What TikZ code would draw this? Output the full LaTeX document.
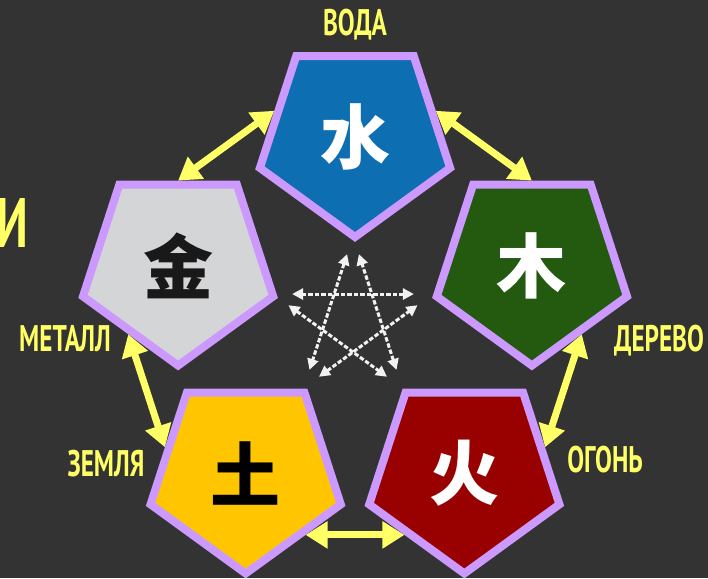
\documentclass[tikz,border=0pt]{standalone}
\usepackage{fontspec}
\setmainfont{PT Sans}
\newfontfamily\namefont[FakeStretch=0.68]{PT Sans}
\newfontfamily\cjk{Noto Sans CJK SC}
\usetikzlibrary{arrows.meta,positioning,calc,shapes.geometric}
\definecolor{bgGrey}{HTML}{333333}
\definecolor{rimLilac}{HTML}{CC99FF}
\definecolor{nameYellow}{HTML}{FFFF66}
\definecolor{starWhite}{HTML}{F2F2F2}
\definecolor{waterBlue}{HTML}{0D6EB2}
\definecolor{woodGreen}{HTML}{235A0F}
\definecolor{fireRed}{HTML}{990000}
\definecolor{earthGold}{HTML}{FFC600}
\definecolor{metalGrey}{HTML}{D4D5D7}
\tikzset{
  element/.style={regular polygon, regular polygon sides=5, shape border rotate=180,
    minimum size=200pt, draw=rimLilac, line width=8pt, inner sep=0pt,
    font=\cjk\bfseries\fontsize{70}{70}\selectfont},
  namelabel/.style={text=nameYellow, inner sep=0pt,
    font=\namefont\bfseries\fontsize{37}{37}\selectfont},
  cycleflow/.style={{Triangle[length=22pt,width=26pt]}-{Triangle[length=22pt,width=26pt]},
    line width=7pt, draw=nameYellow},
  starflow/.style={{Triangle[length=11pt,width=11pt]}-{Triangle[length=11pt,width=11pt]},
    line width=3pt, draw=starWhite, dash pattern=on 4.5pt off 2pt,
    shorten <=19pt, shorten >=19pt}
}

\begin{document}
\begin{tikzpicture}[x=1pt, y=1pt]
  \useasboundingbox (-355,-255) rectangle (353,323);
  \fill[bgGrey] (-355,-255) rectangle (353,323);

  % the five elements
  \node[element, fill=waterBlue, text=white] (water) at (90:186) {水};
  \node[element, fill=woodGreen, text=white] (wood) at (18:186) {木};
  \node[element, fill=fireRed, text=white] (fire) at (-54:186) {火};
  \node[element, fill=earthGold, text=black] (earth) at (-126:186) {土};
  \node[element, fill=metalGrey, text=black!90] (metal) at (162:186) {金};

  \node[namelabel, above=12pt of water] (waterName) {ВОДА};
  \node[namelabel] (woodName) at (304,-18) {ДЕРЕВО};
  \node[namelabel] (fireName) at (250,-137) {ОГОНЬ};
  \node[namelabel] (earthName) at (-249,-141) {ЗЕМЛЯ};
  \node[namelabel] (metalName) at (-290,-16) {МЕТАЛЛ};
  \node[namelabel, font=\namefont\bfseries\fontsize{70}{70}\selectfont, anchor=east] (cutName) at (-327,100) {И};

  % generating cycle
  \coordinate (fireIn) at ($(fire.corner 5)!.4!(fire.corner 1)$);
  \coordinate (earthIn) at ($(earth.corner 2)!.4!(earth.corner 1)$);
  \draw[cycleflow] (water.side 4) -- (metal.side 3);
  \draw[cycleflow] (water.side 2) -- (wood.side 3);
  \draw[cycleflow] (wood.side 1) -- (fire.side 2);
  \draw[cycleflow] (fireIn) -- (earthIn);
  \draw[cycleflow] (earth.side 4) -- (metal.side 5);

  % controlling cycle
  \coordinate (star) at (-2,3);
  \foreach \i in {0,...,4}
    \coordinate (s\i) at ($(star)+({90+72*\i}:84)$);
  \foreach \i [evaluate=\i as \j using {int(mod(\i+2,5))}] in {0,...,4}
    \draw[starflow] (s\i) -- (s\j);
\end{tikzpicture}
\end{document}
